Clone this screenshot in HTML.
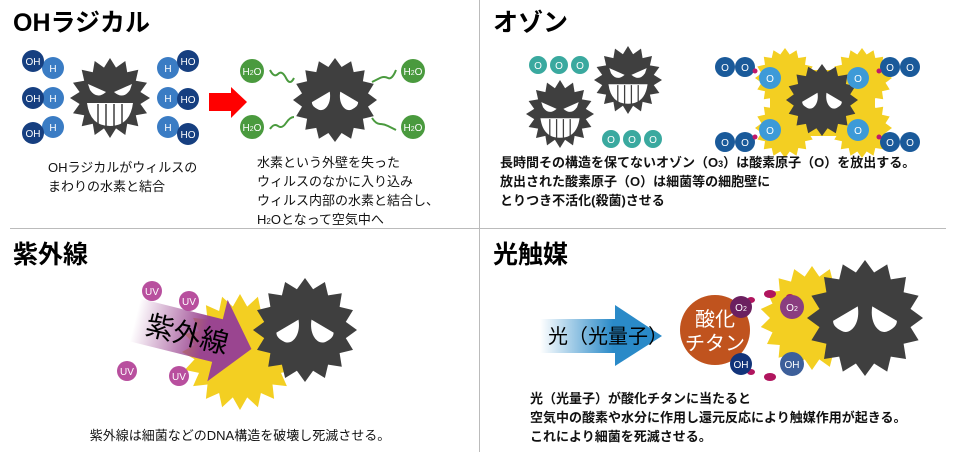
<!DOCTYPE html>
<html><head><meta charset="utf-8"><style>
body{margin:0;background:#fff;width:960px;height:460px;overflow:hidden}
svg text{font-family:"Liberation Sans","Noto Sans CJK JP",sans-serif}
</style></head><body>
<svg id="s" width="960" height="460" viewBox="0 0 960 460" xmlns="http://www.w3.org/2000/svg">
<defs>
<linearGradient id="gp" x1="0" x2="1" y1="0" y2="0"><stop offset="0" stop-color="#9a4590" stop-opacity="0"/><stop offset="0.6" stop-color="#9a4590"/><stop offset="1" stop-color="#9a4590"/></linearGradient>
<linearGradient id="gb" x1="0" x2="1" y1="0" y2="0"><stop offset="0" stop-color="#2a8ac8" stop-opacity="0"/><stop offset="0.6" stop-color="#2a8ac8"/><stop offset="1" stop-color="#2a8ac8"/></linearGradient>
</defs>
<line x1="479.5" y1="0" x2="479.5" y2="452" stroke="#bbb"/>
<line x1="10" y1="228.5" x2="946" y2="228.5" stroke="#bbb"/>
<g font-weight="bold" font-size="25" fill="#000">
<text x="13" y="31">OHラジカル</text>
<text x="493" y="31">オゾン</text>
<text x="13" y="263">紫外線</text>
<text x="493" y="263">光触媒</text>
</g>
<g id="stars"></g>
<g font-size="10" fill="#fff" text-anchor="middle">
<circle cx="53" cy="68" r="11" fill="#3a7cc4"/><circle cx="33" cy="61" r="11" fill="#163f80"/><text x="33" y="65">OH</text><text x="53" y="72">H</text>
<circle cx="53" cy="98" r="11" fill="#3a7cc4"/><circle cx="33" cy="98" r="11" fill="#163f80"/><text x="33" y="102">OH</text><text x="53" y="102">H</text>
<circle cx="53" cy="127" r="11" fill="#3a7cc4"/><circle cx="33" cy="133" r="11" fill="#163f80"/><text x="33" y="137">OH</text><text x="53" y="131">H</text>
<circle cx="168" cy="68" r="11" fill="#3a7cc4"/><circle cx="188" cy="61" r="11" fill="#163f80"/><text x="168" y="72">H</text><text x="188" y="65">HO</text>
<circle cx="168" cy="98" r="11" fill="#3a7cc4"/><circle cx="188" cy="99" r="11" fill="#163f80"/><text x="168" y="102">H</text><text x="188" y="103">HO</text>
<circle cx="168" cy="127" r="11" fill="#3a7cc4"/><circle cx="188" cy="134" r="11" fill="#163f80"/><text x="168" y="131">H</text><text x="188" y="138">HO</text>
</g>
<polygon points="209,93 231,93 231,87 247,102 231,118 231,111 209,111" fill="#f00"/>
<g font-size="10" fill="#fff" text-anchor="middle">
<circle cx="252" cy="71" r="12" fill="#4a9a3e"/><text x="252" y="75">H<tspan font-size="7">2</tspan>O</text>
<circle cx="252" cy="127" r="12" fill="#4a9a3e"/><text x="252" y="131">H<tspan font-size="7">2</tspan>O</text>
<circle cx="413" cy="71" r="12" fill="#4a9a3e"/><text x="413" y="75">H<tspan font-size="7">2</tspan>O</text>
<circle cx="413" cy="127" r="12" fill="#4a9a3e"/><text x="413" y="131">H<tspan font-size="7">2</tspan>O</text>
</g>
<g fill="none" stroke="#4a9a3e" stroke-width="2">
<path d="M270,70 q4,8 8,4 t8,4 t8,0"/><path d="M270,129 q4,-6 8,-3 t8,-3 t8,-6"/>
<path d="M372,82 q4,-2 8,-4 t8,0 t8,-8"/><path d="M372,118 q4,6 8,6 t8,2 t8,4"/>
</g>
<g font-size="13" fill="#111">
<text x="48" y="172">OHラジカルがウィルスの</text><text x="48" y="191">まわりの水素と結合</text>
<text x="257" y="167">水素という外壁を失った</text><text x="257" y="186">ウィルスのなかに入り込み</text><text x="257" y="205">ウィルス内部の水素と結合し、</text><text x="257" y="224">H<tspan font-size="8">2</tspan>Oとなって空気中へ</text>
</g>
<g font-size="10" fill="#fff" text-anchor="middle">
<circle cx="538" cy="65" r="9" fill="#3aa99f"/><text x="538" y="69">O</text>
<circle cx="559" cy="65" r="9" fill="#3aa99f"/><text x="559" y="69">O</text>
<circle cx="580" cy="65" r="9" fill="#3aa99f"/><text x="580" y="69">O</text>
<circle cx="611" cy="139" r="9" fill="#3aa99f"/><text x="611" y="143">O</text>
<circle cx="632" cy="139" r="9" fill="#3aa99f"/><text x="632" y="143">O</text>
<circle cx="653" cy="139" r="9" fill="#3aa99f"/><text x="653" y="143">O</text>
</g>
<g id="oz" font-size="10" fill="#fff" text-anchor="middle"></g>
<g font-size="13" fill="#111" font-weight="bold">
<text x="500" y="167">長時間その構造を保てないオゾン（O<tspan font-size="9">3</tspan>）は酸素原子（O）を放出する。</text>
<text x="500" y="186">放出された酸素原子（O）は細菌等の細胞壁に</text>
<text x="500" y="205">とりつき不活化(殺菌)させる</text>
</g>
<g font-size="10" fill="#fff" text-anchor="middle">
<circle cx="152" cy="291" r="10" fill="#b84f9e"/><text x="152" y="295">UV</text>
<circle cx="189" cy="301" r="10" fill="#b84f9e"/><text x="189" y="305">UV</text>
<circle cx="127" cy="371" r="10" fill="#b84f9e"/><text x="127" y="375">UV</text>
<circle cx="179" cy="376" r="10" fill="#b84f9e"/><text x="179" y="380">UV</text>
</g>
<g transform="translate(135,320) rotate(14)">
<polygon points="0,-22 85,-22 85,-42 120,0 85,42 85,22 0,22" fill="url(#gp)"/>
<text x="12" y="11" font-size="28" fill="#000">紫外線</text>
</g>
<text x="240" y="440" font-size="13" fill="#111" text-anchor="middle">紫外線は細菌などのDNA構造を破壊し死滅させる。</text>
<polygon points="540,319 615,319 615,305 662,336 615,366 615,353 540,353" fill="url(#gb)"/>
<text x="548" y="343" font-size="20" fill="#000">光（光量子）</text>
<circle cx="715" cy="330" r="35" fill="#c0531e"/>
<text x="715" y="326" font-size="20" fill="#fff" text-anchor="middle">酸化</text>
<text x="715" y="350" font-size="20" fill="#fff" text-anchor="middle">チタン</text>
<g fill="#b0155e">
<ellipse cx="751" cy="300" rx="4" ry="3"/><ellipse cx="770" cy="294" rx="6" ry="4"/><ellipse cx="790" cy="297" rx="4" ry="3"/>
<ellipse cx="751" cy="372" rx="4" ry="3"/><ellipse cx="770" cy="377" rx="6" ry="4"/><ellipse cx="790" cy="372" rx="4" ry="3"/>
</g>
<g font-size="10" fill="#fff" text-anchor="middle">
<circle cx="741" cy="307" r="11" fill="#6b2060"/><text x="741" y="311">O<tspan font-size="7">2</tspan></text>
<circle cx="741" cy="364" r="11" fill="#12347a"/><text x="741" y="368">OH</text>
<circle cx="792" cy="307" r="12" fill="#8a3d80"/><text x="792" y="311">O<tspan font-size="7">2</tspan></text>
<circle cx="792" cy="364" r="12" fill="#3d5f9a"/><text x="792" y="368">OH</text>
</g>
<g font-size="13" fill="#111" font-weight="bold">
<text x="530" y="403">光（光量子）が酸化チタンに当たると</text>
<text x="530" y="422">空気中の酸素や水分に作用し還元反応により触媒作用が起きる。</text>
<text x="530" y="441">これにより細菌を死滅させる。</text>
</g>
</svg>
<script>
function star(cx,cy,R,r,n,fill,rot){rot=rot||0;var p=[];for(var i=0;i<2*n;i++){var a=rot+Math.PI*i/n;var rr=i%2?r:R;p.push((cx+rr*Math.sin(a)).toFixed(1)+","+(cy-rr*Math.cos(a)).toFixed(1));}return '<polygon points="'+p.join(' ')+'" fill="'+fill+'"/>';}
function evil(cx,cy,s){return star(cx,cy,40*s,31*s,16,"#3f3f3f")+
'<path d="M'+(cx-22*s)+','+(cy-14*s)+' L'+(cx-4*s)+','+(cy-6*s)+' Q'+(cx-13*s)+','+(cy+2*s)+' '+(cx-20*s)+','+(cy-8*s)+'Z" fill="#fff"/>'+
'<path d="M'+(cx+22*s)+','+(cy-14*s)+' L'+(cx+4*s)+','+(cy-6*s)+' Q'+(cx+13*s)+','+(cy+2*s)+' '+(cx+20*s)+','+(cy-8*s)+'Z" fill="#fff"/>'+
'<path d="M'+(cx-23*s)+','+(cy+5*s)+' L'+(cx+23*s)+','+(cy+5*s)+' Q'+(cx+20*s)+','+(cy+28*s)+' '+cx+','+(cy+28*s)+' Q'+(cx-20*s)+','+(cy+28*s)+' '+(cx-23*s)+','+(cy+5*s)+'Z" fill="#fff"/>'+
[-12,-4,4,12].map(function(d){return '<line x1="'+(cx+d*s)+'" y1="'+(cy+6*s)+'" x2="'+(cx+d*s)+'" y2="'+(cy+28*s)+'" stroke="#3f3f3f" stroke-width="'+(1.5*s)+'"/>';}).join('');}
function eye(cx,cy,s,d){
 // straight top from outer-low to inner-high, rounded bottom
 var ox=cx+d*22*s, oy=cy+2*s, ix=cx+d*5*s, iy=cy-8*s;
 return '<path d="M'+ox+','+oy+' L'+ix+','+iy+' C'+(cx+d*3*s)+','+(cy+4*s)+' '+(cx+d*10*s)+','+(cy+12*s)+' '+(cx+d*16*s)+','+(cy+9*s)+' C'+(cx+d*20*s)+','+(cy+7*s)+' '+ox+','+(oy+3*s)+' '+ox+','+oy+'Z" fill="#fff"/>';}
function sad(cx,cy,R){var s=R/40;return star(cx,cy,R,R*0.8,16,"#3f3f3f")+eye(cx,cy,s,-1)+eye(cx,cy,s,1);}
var Y="#f3cf22",h="";
h+=evil(110,98,1);
h+=sad(335,100,42);
h+=evil(560,114,0.85);
h+=evil(628,80,0.85);
h+=star(785,78,30,24,16,Y)+star(785,128,30,24,16,Y)+star(862,78,30,24,16,Y)+star(862,128,30,24,16,Y);
h+='<rect x="770" y="70" width="105" height="66" fill="'+Y+'"/>';
h+=sad(822,100,36);
h+=star(240,352,58,46,20,Y);
h+=sad(305,330,52);
h+=star(812,318,52,42,18,Y);
h+=sad(865,318,58);
document.getElementById("stars").innerHTML=h;
var o="",B="#1a5a9a",L="#3d9ad8";
[[725,67],[745,67],[890,67],[910,67],[725,142],[745,142],[890,142],[910,142]].forEach(function(c){o+='<circle cx="'+c[0]+'" cy="'+c[1]+'" r="10" fill="'+B+'"/><text x="'+c[0]+'" y="'+(c[1]+4)+'">O</text>';});
[[755,71],[879,71],[755,137],[879,137]].forEach(function(c){o+='<circle cx="'+c[0]+'" cy="'+c[1]+'" r="2.5" fill="#c0186a"/>';});
[[770,78],[858,78],[770,130],[858,130]].forEach(function(c){o+='<circle cx="'+c[0]+'" cy="'+c[1]+'" r="11" fill="'+L+'"/><text x="'+c[0]+'" y="'+(c[1]+4)+'">O</text>';});
document.getElementById("oz").innerHTML=o;
</script>
</body></html>
